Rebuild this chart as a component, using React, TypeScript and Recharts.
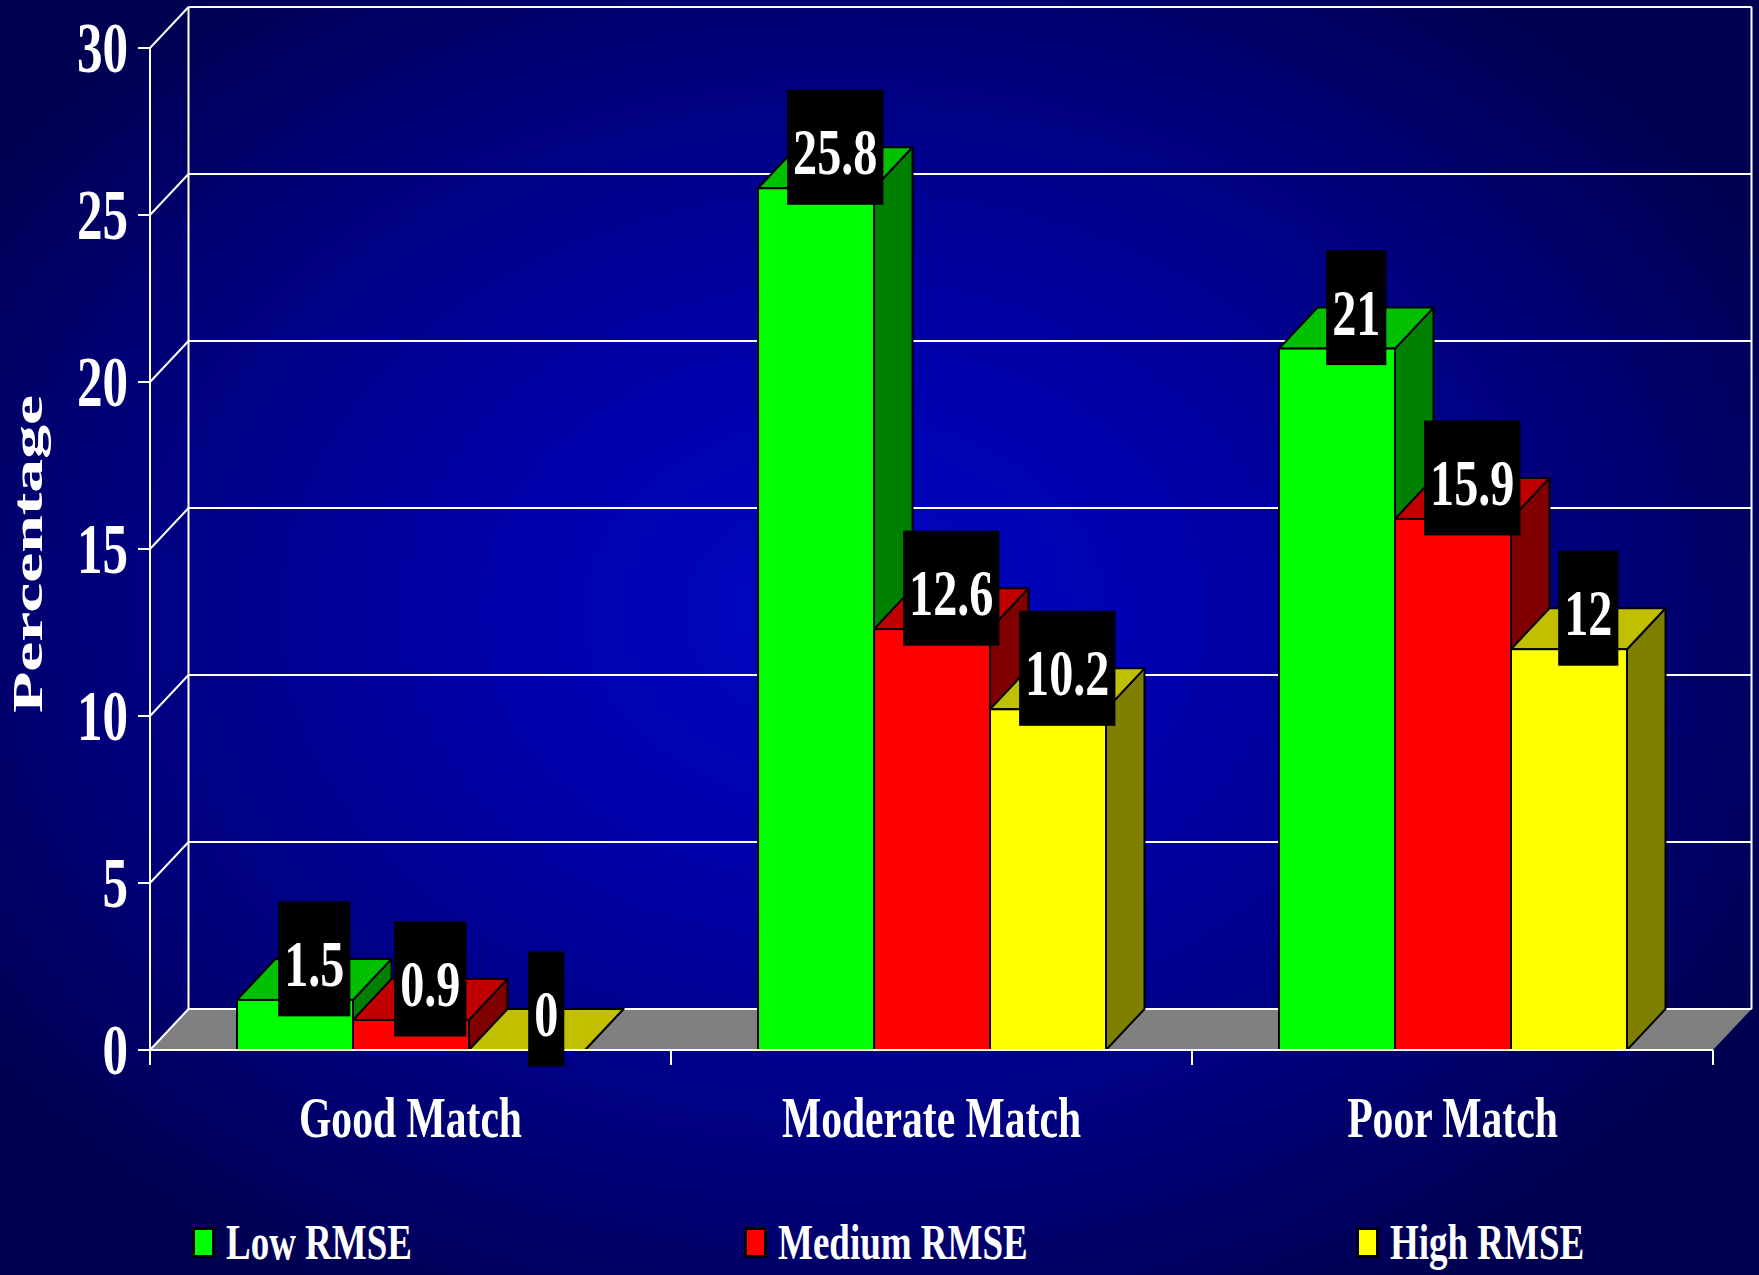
import React from 'react';
import { BarChart, Bar, XAxis, YAxis, CartesianGrid, LabelList } from 'recharts';

// ---------- data ----------
const categories = ['Good Match', 'Moderate Match', 'Poor Match'];
const lowRMSE = [1.5, 25.8, 21];
const mediumRMSE = [0.9, 12.6, 15.9];
const highRMSE = [0, 10.2, 12];
const yTicks = [0, 5, 10, 15, 20, 25, 30];
const seriesKeys = ['low', 'medium', 'high'];
const seriesNames = ['Low RMSE', 'Medium RMSE', 'High RMSE'];
const yAxisTitle = 'Percentage';

const data = categories.map((c, i) => ({
  category: c,
  low: lowRMSE[i],
  medium: mediumRMSE[i],
  high: highRMSE[i],
}));

// ---------- style / layout ----------
const W = 1759;
const H = 1275;
const DX = 38.5;
const DY = -41;
const FONT = '"Liberation Serif", "Times New Roman", Times, serif';
const SQ = 0.73;

const faceColors: Record<string, { front: string; top: string; side: string }> = {
  low: { front: '#00FF00', top: '#00C000', side: '#008000' },
  medium: { front: '#FF0000', top: '#C00000', side: '#800000' },
  high: { front: '#FFFF00', top: '#C0C000', side: '#808000' },
};

const legendItemX = [192, 744, 1356];

const makeShape = (key: string) => (props: any) => {
  const { x, y, width: w, height: h } = props;
  if (x == null || y == null) return null;
  const c = faceColors[key];
  const hh = Math.max(0, h || 0);
  return (
    <g>
      <polygon
        points={`${x + w},${y + hh} ${x + w + DX},${y + hh + DY} ${x + w + DX},${y + DY} ${x + w},${y}`}
        fill={c.side}
        stroke="#000"
        strokeWidth={2}
        strokeLinejoin="round"
      />
      <polygon
        points={`${x},${y} ${x + DX},${y + DY} ${x + w + DX},${y + DY} ${x + w},${y}`}
        fill={c.top}
        stroke="#000"
        strokeWidth={2}
        strokeLinejoin="round"
      />
      {hh > 0 && <rect x={x} y={y} width={w} height={hh} fill={c.front} stroke="#000" strokeWidth={2} />}
    </g>
  );
};

const renderValueLabel = (props: any) => {
  const vb = props.viewBox || {};
  const x = props.x ?? vb.x;
  const y = props.y ?? vb.y;
  const w = props.width ?? vb.width;
  if (x == null || y == null) return null;
  const s = String(props.value);
  let adv = 0;
  for (const ch of s) adv += ch === '.' ? 0.25 : 0.5;
  const fs = 66;
  const tw = adv * fs * SQ;
  const bw = tw + 12;
  const bh = 115;
  const cx = x + w / 2 + DX / 2;
  const cy = y + DY;
  return (
    <g>
      <rect x={cx - bw / 2} y={cy - bh / 2} width={bw} height={bh} fill="#000" />
      <text
        transform={`translate(${cx},${cy + 27}) scale(${SQ},1)`}
        textAnchor="middle"
        fill="#fff"
        fontFamily={FONT}
        fontWeight="bold"
        fontSize={fs}
      >
        {s}
      </text>
    </g>
  );
};

const renderGridLine = (props: any) => {
  const { x1, x2, y1, y, height, index } = props;
  const bottom = y != null && height != null ? y + height : null;
  const isBottom = bottom != null ? Math.abs(y1 - bottom) < 1 : y1 > 1040;
  const topY = y != null ? y : y1;
  return (
    <g key={`gl-${index}-${y1}`}>
      {isBottom && (
        <g>
          <line x1={x1 + DX} y1={topY + DY} x2={x1 + DX} y2={y1 + DY} stroke="#fff" strokeWidth={2} />
          <line x1={x2 + DX} y1={topY + DY} x2={x2 + DX} y2={y1 + DY} stroke="#fff" strokeWidth={2} />
          <polygon
            points={`${x1},${y1} ${x2},${y1} ${x2 + DX},${y1 + DY} ${x1 + DX},${y1 + DY}`}
            fill="#808080"
          />
        </g>
      )}
      <line x1={x1} y1={y1} x2={x1 + DX} y2={y1 + DY} stroke="#fff" strokeWidth={2} />
      <line x1={x1 + DX} y1={y1 + DY} x2={x2 + DX} y2={y1 + DY} stroke="#fff" strokeWidth={2} />
    </g>
  );
};

const renderYTick = (props: any) => {
  const { x, y, payload } = props;
  return (
    <text
      transform={`translate(${x},${y + 24}) scale(0.72,1)`}
      textAnchor="end"
      fill="#fff"
      fontFamily={FONT}
      fontWeight="bold"
      fontSize={71}
    >
      {payload.value}
    </text>
  );
};

const renderXTick = (props: any) => {
  const { x, y, payload, index, visibleTicksCount, width } = props;
  const n = visibleTicksCount || categories.length;
  const band = width ? width / n : 521;
  return (
    <g>
      <line x1={x - band / 2} y1={y} x2={x - band / 2} y2={y + 15} stroke="#fff" strokeWidth={2} />
      {index === n - 1 && (
        <line x1={x + band / 2} y1={y} x2={x + band / 2} y2={y + 15} stroke="#fff" strokeWidth={2} />
      )}
      <text
        transform={`translate(${x},${y + 87}) scale(${SQ},1)`}
        textAnchor="middle"
        fill="#fff"
        fontFamily={FONT}
        fontWeight="bold"
        fontSize={57}
      >
        {payload.value}
      </text>
    </g>
  );
};

export default function App() {
  return (
    <div
      style={{
        position: 'absolute',
        left: 0,
        top: 0,
        width: W,
        height: H,
        overflow: 'hidden',
        background:
          'radial-gradient(ellipse 60% 62% at 48% 48%, #0008C4 0%, #0000A8 35%, #00007C 70%, #000050 100%)',
      }}
    >
      <BarChart
        width={W}
        height={H}
        data={data}
        margin={{ top: 48, right: 46, bottom: 0, left: 0 }}
        barCategoryGap="16.7%"
        barGap={0}
      >
        <CartesianGrid vertical={false} horizontal={renderGridLine as any} stroke="#fff" />
        <XAxis
          dataKey="category"
          height={225}
          axisLine={{ stroke: '#fff', strokeWidth: 2 }}
          tickLine={false}
          tickSize={0}
          tickMargin={0}
          tick={renderXTick}
          interval={0}
        />
        <YAxis
          width={150}
          domain={[0, 30]}
          ticks={yTicks}
          interval={0}
          axisLine={{ stroke: '#fff', strokeWidth: 2 }}
          tickLine={{ stroke: '#fff', strokeWidth: 2 }}
          tickSize={12}
          tickMargin={10}
          tick={renderYTick}
        />
        {seriesKeys.map((k, i) => (
          <Bar
            key={k}
            dataKey={k}
            name={seriesNames[i]}
            fill={faceColors[k].front}
            shape={makeShape(k)}
            isAnimationActive={false}
          >
            <LabelList dataKey={k} content={renderValueLabel} />
          </Bar>
        ))}
      </BarChart>
      <svg
        width={W}
        height={H}
        style={{ position: 'absolute', left: 0, top: 0, pointerEvents: 'none' }}
      >
        <text
          transform="translate(42,554) rotate(-90)"
          textAnchor="middle"
          fill="#fff"
          fontFamily={FONT}
          fontWeight="bold"
          fontSize={42}
          textLength={318}
          lengthAdjust="spacingAndGlyphs"
        >
          {yAxisTitle}
        </text>
        {seriesKeys.map((k, i) => (
          <g key={k}>
            <rect
              x={legendItemX[i] + 1.5}
              y={1228.5}
              width={20}
              height={28}
              fill={faceColors[k].front}
              stroke="#000"
              strokeWidth={3}
            />
            <text
              transform={`translate(${legendItemX[i] + 34},1259) scale(0.74,1)`}
              fill="#fff"
              fontFamily={FONT}
              fontWeight="bold"
              fontSize={50}
            >
              {seriesNames[i]}
            </text>
          </g>
        ))}
      </svg>
    </div>
  );
}
